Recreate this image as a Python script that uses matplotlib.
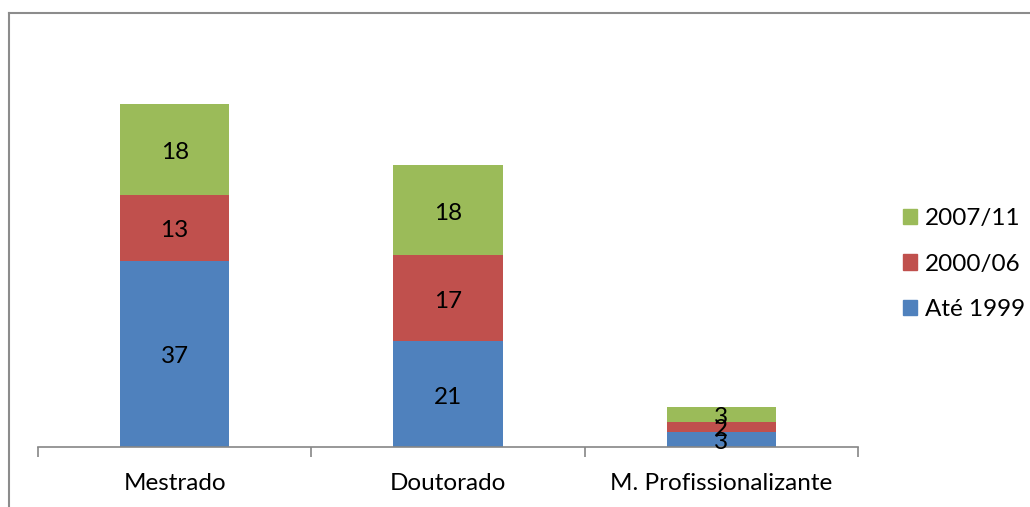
import matplotlib
matplotlib.use("Agg")
import matplotlib.pyplot as plt
from matplotlib.lines import Line2D
from matplotlib.patches import Patch

categories = ["Mestrado", "Doutorado", "M. Profissionalizante"]
series_names = ["Até 1999", "2000/06", "2007/11"]
ate_1999 = [37, 21, 3]
s2000_06 = [13, 17, 2]
s2007_11 = [18, 18, 3]
colors = ["#4F81BD", "#C0504D", "#9BBB59"]

plt.rcParams['font.family'] = ['Lato', 'DejaVu Sans']
W, H = 1030, 507
fig = plt.figure(figsize=(W/100, H/100), dpi=100)
ax = fig.add_axes([38/W, (H-447)/H, (858-38)/W, (447-44)/H])

x = list(range(len(categories)))
bottom = [0]*len(categories)
fs = 17.5
for vals, name, c in zip([ate_1999, s2000_06, s2007_11], series_names, colors):
    ax.bar(x, vals, width=0.4, bottom=bottom, color=c, label=name)
    for xi, v, b in zip(x, vals, bottom):
        ax.annotate(str(v), (xi, b + v/2), xytext=(0, -3), textcoords='offset pixels',
                    ha='center', va='center', fontsize=fs, color='black')
    bottom = [b + v for b, v in zip(bottom, vals)]

ax.set_xlim(-0.5, 2.5)
ax.set_ylim(0, 403/5.04)
for s in ['top', 'right', 'left']:
    ax.spines[s].set_visible(False)
ax.spines['bottom'].set_color('#868686')
ax.spines['bottom'].set_linewidth(1.2)
ax.set_yticks([])
ax.set_xticks([-0.5, 0.5, 1.5, 2.5], minor=False)
ax.set_xticklabels([])
ax.tick_params(axis='x', which='major', length=7, color='#868686', width=1.2, direction='out')
ax.set_xticks(x, minor=True)
ax.set_xticklabels(categories, minor=True, fontsize=fs)
ax.tick_params(axis='x', which='minor', length=0, pad=19)

handles = [Patch(color=c) for c in colors][::-1]
labels = series_names[::-1]
fig.legend(handles, labels, loc='center left', bbox_to_anchor=(893/W, 1-264/H),
           frameon=False, fontsize=fs, handlelength=0.6, handleheight=0.6,
           handletextpad=0.3, labelspacing=1.0, borderaxespad=0)

fig.add_artist(Line2D([9/W, 1.0], [1-13/H, 1-13/H], color='#8c8c8c', lw=1.5, transform=fig.transFigure))
fig.add_artist(Line2D([9/W, 9/W], [0, 1-13/H], color='#8c8c8c', lw=1.5, transform=fig.transFigure))

fig.savefig("out.png", dpi=100)
